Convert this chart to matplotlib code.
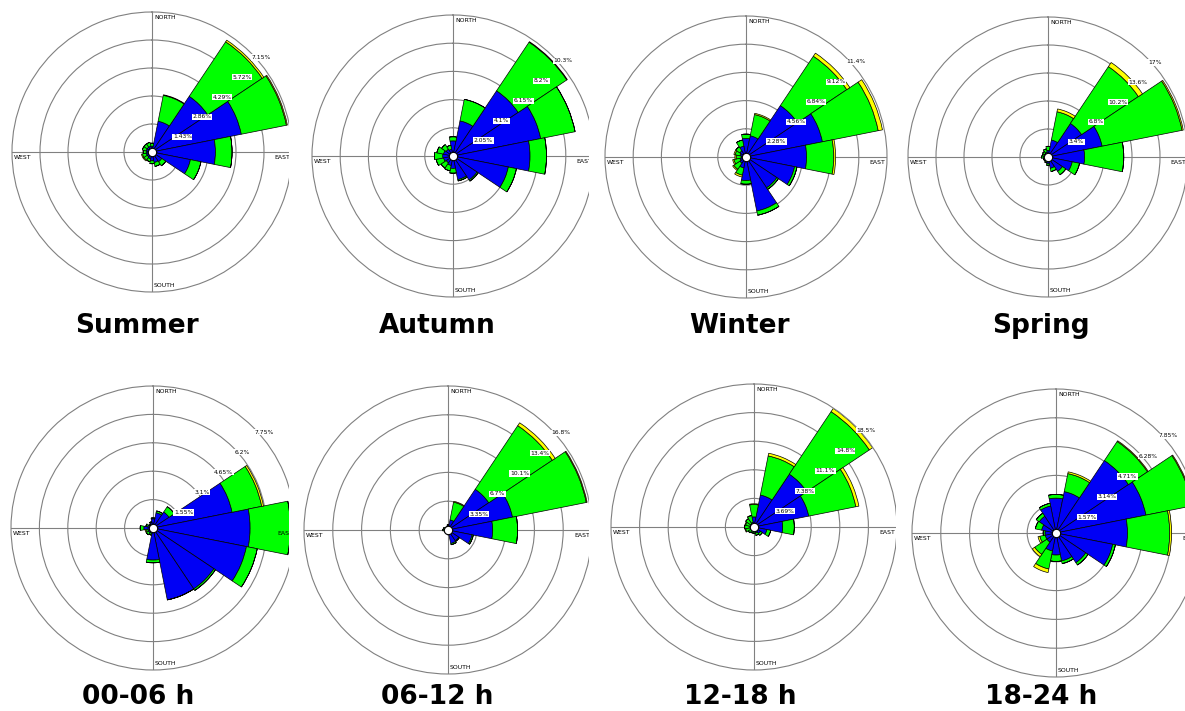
import numpy as np
import matplotlib
matplotlib.use("Agg")
import matplotlib.pyplot as plt
from matplotlib.patches import Rectangle

plt.rcParams['font.family'] = ['DejaVu Sans']

W, H = 1185, 711

directions = ["N", "NNE", "NE", "ENE", "E", "ESE", "SE", "SSE",
              "S", "SSW", "SW", "WSW", "W", "WNW", "NW", "NNW"]

titles = ["Summer", "Autumn", "Winter", "Spring",
          "00-06 h", "06-12 h", "12-18 h", "18-24 h"]

# frequency (%) per direction for each speed class
summer_low = [0.30, 1.60, 3.42, 4.65, 3.24, 2.00, 0.60, 0.55, 0.45, 0.35, 0.30, 0.30, 0.30, 0.30, 0.30, 0.30]
summer_mid = [0.15, 1.35, 3.35, 2.35, 0.85, 0.55, 0.25, 0.20, 0.15, 0.15, 0.20, 0.20, 0.15, 0.20, 0.20, 0.20]
summer_high = [0.00, 0.03, 0.10, 0.05, 0.00, 0.00, 0.00, 0.00, 0.00, 0.00, 0.05, 0.05, 0.00, 0.00, 0.00, 0.00]

autumn_low = [1.10, 2.60, 5.70, 6.50, 5.60, 4.10, 2.10, 1.75, 0.90, 0.70, 0.60, 0.70, 0.75, 0.70, 0.60, 0.50]
autumn_mid = [0.30, 1.60, 4.25, 2.55, 1.20, 0.60, 0.10, 0.10, 0.35, 0.40, 0.45, 0.55, 0.60, 0.50, 0.40, 0.30]
autumn_high = [0.00, 0.00, 0.05, 0.00, 0.00, 0.00, 0.00, 0.00, 0.00, 0.00, 0.00, 0.00, 0.00, 0.00, 0.00, 0.00]

winter_low = [1.50, 1.75, 5.00, 6.30, 4.90, 4.00, 3.00, 4.45, 1.90, 0.90, 0.60, 0.50, 0.40, 0.50, 0.60, 0.90]
winter_mid = [0.35, 1.75, 4.80, 4.60, 2.20, 0.20, 0.15, 0.35, 0.30, 0.60, 0.60, 0.50, 0.40, 0.40, 0.40, 0.50]
winter_high = [0.00, 0.10, 0.30, 0.35, 0.15, 0.00, 0.00, 0.00, 0.00, 0.15, 0.10, 0.10, 0.10, 0.10, 0.00, 0.00]

spring_low = [0.80, 2.10, 4.90, 6.70, 4.45, 3.00, 2.10, 1.40, 0.80, 0.50, 0.40, 0.40, 0.50, 0.50, 0.50, 0.60]
spring_mid = [0.50, 3.50, 8.30, 9.90, 4.75, 0.90, 0.50, 0.40, 0.20, 0.20, 0.20, 0.20, 0.30, 0.20, 0.30, 0.40]
spring_high = [0.00, 0.35, 0.60, 0.15, 0.00, 0.00, 0.00, 0.00, 0.00, 0.05, 0.00, 0.00, 0.00, 0.00, 0.00, 0.00]

h00_low = [0.50, 0.85, 1.05, 4.40, 5.30, 5.20, 4.00, 4.00, 1.75, 0.30, 0.30, 0.30, 0.50, 0.30, 0.20, 0.30]
h00_mid = [0.05, 0.10, 0.35, 1.65, 2.20, 0.60, 0.10, 0.00, 0.15, 0.10, 0.15, 0.10, 0.20, 0.10, 0.05, 0.05]
h00_high = [0.00, 0.00, 0.00, 0.10, 0.00, 0.00, 0.00, 0.00, 0.00, 0.00, 0.00, 0.05, 0.00, 0.00, 0.00, 0.00]

h06_low = [0.50, 1.20, 5.70, 7.65, 5.20, 2.85, 1.50, 1.60, 0.50, 0.30, 0.30, 0.35, 0.40, 0.40, 0.30, 0.30]
h06_mid = [0.10, 2.10, 8.90, 8.75, 2.90, 0.15, 0.10, 0.15, 0.05, 0.10, 0.10, 0.10, 0.20, 0.15, 0.10, 0.10]
h06_high = [0.00, 0.10, 0.40, 0.10, 0.00, 0.00, 0.00, 0.00, 0.00, 0.00, 0.00, 0.00, 0.00, 0.00, 0.00, 0.00]

h12_low = [1.30, 4.20, 8.20, 7.20, 3.70, 1.70, 1.00, 0.80, 0.60, 0.50, 0.50, 0.50, 0.50, 0.50, 0.50, 0.60]
h12_mid = [1.60, 5.15, 9.70, 6.20, 1.50, 0.50, 0.30, 0.30, 0.20, 0.30, 0.40, 0.60, 0.70, 0.60, 0.80, 0.90]
h12_high = [0.10, 0.35, 0.50, 0.40, 0.00, 0.00, 0.00, 0.00, 0.00, 0.00, 0.00, 0.10, 0.05, 0.10, 0.00, 0.05]

h18_low = [1.90, 2.30, 4.75, 5.00, 3.90, 3.15, 1.95, 1.55, 1.20, 1.00, 0.60, 0.60, 0.60, 0.80, 1.10, 1.50]
h18_mid = [0.20, 1.00, 1.25, 2.60, 2.30, 0.15, 0.15, 0.15, 0.35, 1.00, 0.80, 0.30, 0.10, 0.35, 0.20, 0.15]
h18_high = [0.00, 0.10, 0.05, 0.05, 0.10, 0.00, 0.00, 0.00, 0.00, 0.20, 0.15, 0.10, 0.00, 0.00, 0.00, 0.00]

low_class = [summer_low, autumn_low, winter_low, spring_low, h00_low, h06_low, h12_low, h18_low]
mid_class = [summer_mid, autumn_mid, winter_mid, spring_mid, h00_mid, h06_mid, h12_mid, h18_mid]
high_class = [summer_high, autumn_high, winter_high, spring_high, h00_high, h06_high, h12_high, h18_high]

# ring spacing (%) and the ring labels of each rose
ring_steps = [1.43, 2.05, 2.28, 3.4, 1.55, 3.35, 3.69, 1.57]
ring_labels = [
    ["1.43%", "2.86%", "4.29%", "5.72%", "7.15%"],
    ["2.05%", "4.1%", "6.15%", "8.2%", "10.3%"],
    ["2.28%", "4.56%", "6.84%", "9.12%", "11.4%"],
    ["3.4%", "6.8%", "10.2%", "13.6%", "17%"],
    ["1.55%", "3.1%", "4.65%", "6.2%", "7.75%"],
    ["3.35%", "6.7%", "10.1%", "13.4%", "16.8%"],
    ["3.69%", "7.38%", "11.1%", "14.8%", "18.5%"],
    ["1.57%", "3.14%", "4.71%", "6.28%", "7.85%"],
]

class_colors = ["#0000F5", "#00FF00", "#FFFF00"]

# panel layout in pixels: centre x, centre y, radius, title x, title y
centers = [(152, 152, 140), (453, 156, 141), (746, 157, 141), (1048, 157, 140),
           (153, 528, 142), (448, 530, 144), (754, 527, 143), (1056, 533, 144)]
title_pos = [(137, 326), (437, 326), (739, 326), (1041, 326),
             (138, 697), (437, 697), (740, 697), (1041, 697)]

fig = plt.figure(figsize=(W / 100, H / 100), dpi=100)
fig.patch.set_facecolor("white")

theta = np.deg2rad(np.arange(16) * 22.5)
width = np.deg2rad(22.5)
grid_gray = "#808080"

for i in range(8):
    cx, cy, R = centers[i]
    ax = fig.add_axes([(cx - R) / W, (H - cy - R) / H, 2 * R / W, 2 * R / H],
                      projection="polar")
    ax.set_theta_zero_location("N")
    ax.set_theta_direction(-1)
    step = ring_steps[i]
    rmax = 5 * step
    ax.set_ylim(0, rmax)
    ax.set_axisbelow(True)
    ax.set_thetagrids([0, 90, 180, 270], labels=["", "", "", ""])
    ax.set_rgrids([step * k for k in range(1, 5)], labels=["", "", "", ""])
    ax.grid(True, color=grid_gray, linewidth=0.8)
    ax.spines["polar"].set_color(grid_gray)
    ax.spines["polar"].set_linewidth(0.8)
    ax.tick_params(length=0)

    bottom = np.zeros(16)
    for vals, col in zip([low_class[i], mid_class[i], high_class[i]], class_colors):
        v = np.array(vals)
        ax.bar(theta, v, width=width, bottom=bottom, color=col,
               edgecolor="black", linewidth=0.5, align="center", zorder=2)
        bottom = bottom + v

    # calm circle at the centre
    ax.plot([0], [0], marker="o", markersize=6, markerfacecolor="white",
            markeredgecolor="black", markeredgewidth=0.8, zorder=6, clip_on=False)

    # ring value labels along the NE diagonal
    for k in range(5):
        ax.annotate(ring_labels[i][k], xy=(np.pi / 4, step * (k + 1)),
                    xytext=(1, -2), textcoords="offset pixels",
                    ha="left", va="top", fontsize=4.3, color="black", zorder=7,
                    annotation_clip=False,
                    bbox=dict(boxstyle="square,pad=0.1", fc="white", ec="none"))

    # compass labels
    px = 1.0 / (2 * R)
    ax.text(0.5 + 2 * px, 1 - 3 * px, "NORTH", transform=ax.transAxes,
            ha="left", va="top", fontsize=4.4, zorder=7)
    ax.text(0.5 + 2 * px, 4 * px, "SOUTH", transform=ax.transAxes,
            ha="left", va="bottom", fontsize=4.4, zorder=7)
    ax.text(2 * px, 0.5 - 3 * px, "WEST", transform=ax.transAxes,
            ha="left", va="top", fontsize=4.4, zorder=7)
    ax.text(1 - 2 * px, 0.5 - 3 * px, "EAST", transform=ax.transAxes,
            ha="right", va="top", fontsize=4.4, zorder=7)

    tx, ty = title_pos[i]
    fig.text(tx / W, 1 - ty / H, titles[i], ha="center", va="center",
             fontsize=19, fontweight="bold")

# roses cropped at their right-hand edges
crops = [(289, 0, 14, 305), (589, 0, 14, 305),
         (289, 375, 14, 300), (589, 375, 14, 300), (896, 375, 12, 300)]
for x0, y0, w, h in crops:
    fig.patches.append(Rectangle((x0 / W, 1 - (y0 + h) / H), w / W, h / H,
                                 transform=fig.transFigure, facecolor="white",
                                 edgecolor="none", zorder=10))

fig.savefig("out.png", dpi=100, facecolor="white")
